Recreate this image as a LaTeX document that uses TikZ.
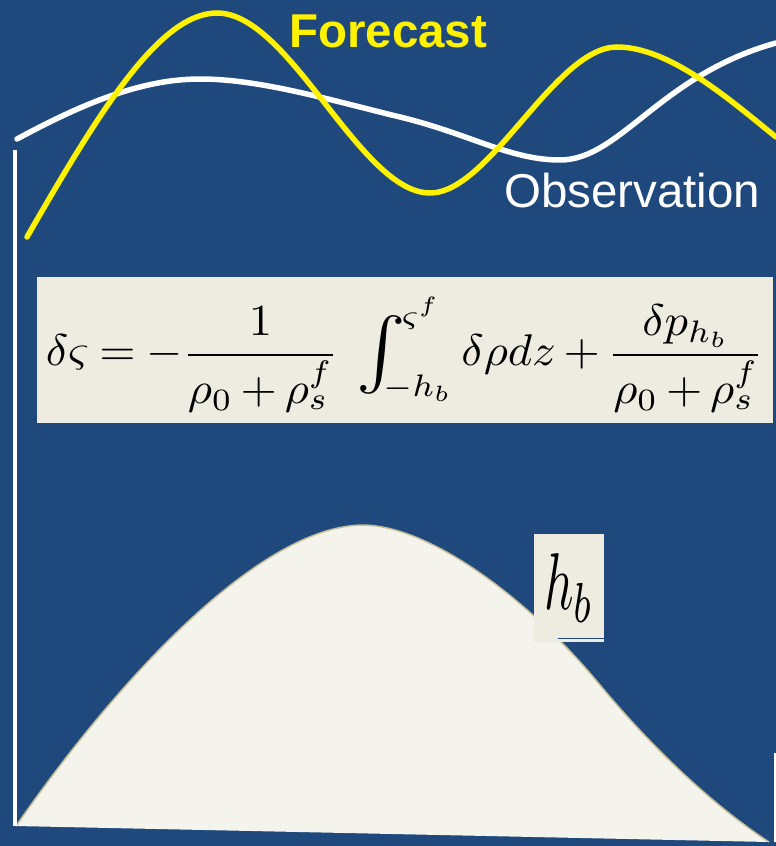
\documentclass[tikz,border=0pt]{standalone}
\usepackage{amsmath}
\usepackage{graphicx}
\usepackage{fontspec}
\setsansfont{Liberation Sans}
\usepackage{tikz}
\definecolor{navy}{HTML}{1F497D}
\definecolor{tan}{HTML}{EEECE1}
\definecolor{cream}{HTML}{F4F3EC}
\definecolor{rim}{HTML}{C4BD97}
\newcommand{\bigint}{\mathop{\vcenter{\hbox{\scalebox{1.6}{$\textstyle\int$}}}}\nolimits}
\tikzset{
  panel/.style={fill=tan,inner sep=0pt},
  caption/.style={font=\fontsize{47.5}{50}\selectfont\sffamily,anchor=base west,inner sep=0pt},
  wave/.style={line width=5.5pt,line cap=round},
}

\begin{document}
\begin{tikzpicture}[x=1pt,y=-1pt]
  \useasboundingbox (0,0) rectangle (776,846);
  \fill[navy] (0,0) rectangle (776,846);
  \fill[cream] (16,826) .. controls (110,690) and (255,527) .. (362,525) .. controls (430,525) and (530,600) .. (600,685) .. controls (660,757) and (720,810) .. (769,842) -- cycle;
  \draw[rim,line width=1.5pt] (16,826) .. controls (110,690) and (255,527) .. (362,525) .. controls (430,525) and (530,600) .. (600,685) .. controls (660,757) and (720,810) .. (769,842);
  \draw[white,line width=4pt] (15,150) -- (15,826);
  \draw[white,line width=1.5pt] (775,753) -- (775,842);
  \node[panel,minimum width=736pt,minimum height=146pt] (eq) at (405,350)
    {\raisebox{0pt}[\dimexpr\height+10pt\relax][\depth]{\resizebox*{718pt}{115pt}{\thickmuskip=4mu\medmuskip=3mu$\displaystyle \delta\varsigma = -\frac{1}{\rho_0+\rho_s^f}\;\bigint_{\kern-5pt-h_b}^{\kern-1pt\varsigma^f}\delta\rho dz+\frac{\delta p_{h_b}}{\rho_0+\rho_s^f}$}}};
  \node[panel,minimum width=70pt,minimum height=108pt] (hb) at (569,588) {\resizebox*{50pt}{68pt}{$h_b$}};
  \draw[navy,line width=1.2pt] ([xshift=24pt,yshift=4pt]hb.south west) -- ([yshift=4pt]hb.south east);
  \draw[white,wave] (17,139) .. controls (80,105) and (140,79) .. (200,79) .. controls (260,79) and (330,100) .. (400,117) .. controls (470,134) and (510,160) .. (560,160) .. controls (620,160) and (660,75) .. (776,43);
  \draw[yellow,wave] (27,237) .. controls (100,110) and (160,13) .. (217,13) .. controls (290,13) and (360,193) .. (430,193) .. controls (490,193) and (555,47) .. (617,47) .. controls (670,47) and (730,100) .. (776,137);
  \node[caption,yellow,font=\fontsize{47.5}{50}\selectfont\sffamily\bfseries] (fc) at (289,47) {Forecast};
  \node[caption,white] (ob) at (504,207) {Observation};
\end{tikzpicture}
\end{document}
